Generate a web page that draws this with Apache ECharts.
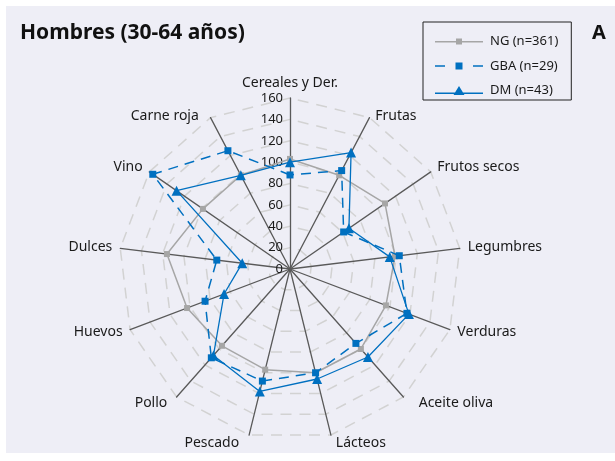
<!DOCTYPE html>
<html>
<head>
<meta charset="utf-8">
<script src="https://cdn.jsdelivr.net/npm/echarts@6/dist/echarts.min.js"></script>
<style>
  html, body { margin: 0; padding: 0; background: #fff; }
  #chart { width: 615px; height: 461px; }
</style>
</head>
<body>
<div id="chart"></div>
<script>
// categorias en sentido horario desde arriba
var categories = ['Cereales y Der.', 'Frutas', 'Frutos secos', 'Legumbres', 'Verduras', 'Aceite oliva',
  'Lácteos', 'Pescado', 'Pollo', 'Huevos', 'Dulces', 'Vino', 'Carne roja'];
var ngValues  = [103, 99, 108, 99, 96, 100, 100, 97, 96, 103, 116, 99, 99];
var gbaValues = [88, 104, 61, 103, 117, 93, 100, 108, 111, 85, 69, 156, 125];
var dmValues  = [100, 123, 67, 94, 119, 110, 106, 118, 108, 66, 45, 129, 99];
var seriesNames = ['NG (n=361)', 'GBA (n=29)', 'DM (n=43)'];
var tickLabels = [0, 20, 40, 60, 80, 100, 120, 140, 160];

// echarts dibuja el radar en sentido antihorario -> invertir el resto
function clockwise(arr) {
  return [arr[0]].concat(arr.slice(1).reverse());
}

var font = 'Noto Sans';
var blue = '#0070c0';
var gray = '#a6a6a6';

// pequeños ajustes de posicion de algunas etiquetas (estilo rich)
var nameStyle = {
  'Frutas': 'fr',
  'Carne roja': 'cr',
  'Aceite oliva': 'ao',
  'Pescado': 'pe',
  'Pollo': 'po',
  'Lácteos': 'la'
};

var chart = echarts.init(document.getElementById('chart'));

var option = {
  backgroundColor: '#fff',
  textStyle: { fontFamily: font },
  graphic: [{
    type: 'rect',
    z: -10,
    silent: true,
    shape: { x: 6, y: 6, width: 609, height: 447 },
    style: { fill: '#eeeef6' }
  }],
  title: [
    {
      text: 'Hombres (30-64 años)',
      left: 15, top: 18,
      textStyle: { fontSize: 21, fontWeight: 'bold', color: '#111', fontFamily: font }
    },
    {
      text: 'A',
      left: 587, top: 18,
      textStyle: { fontSize: 20, fontWeight: 'bold', color: '#111', fontFamily: font }
    }
  ],
  legend: {
    orient: 'vertical',
    left: 423, top: 22,
    padding: [13, 13, 3, 12],
    itemGap: 11.5,
    itemWidth: 48,
    itemHeight: 10,
    borderColor: '#222',
    borderWidth: 1,
    selectedMode: false,
    textStyle: { fontSize: 13, color: '#1a1a1a', padding: [0, 0, 0, 2], fontFamily: font },
    data: [
      { name: seriesNames[0], icon: 'path://M0,2.5H48V4H0Z M21,0H27V6H21Z' },
      { name: seriesNames[1], icon: 'path://M0,2.75H10V4.25H0Z M38,2.75H48V4.25H38Z M20.5,0H27.5V7H20.5Z' },
      { name: seriesNames[2], icon: 'path://M0,6.5H48V8H0Z M18.5,9L24,0L29.5,9Z' }
    ]
  },
  // eje de valores solo para las etiquetas 0..160 sobre el primer eje
  grid: { left: 290, top: 98.3, width: 1, height: 170.7 },
  xAxis: { type: 'value', show: false },
  yAxis: {
    type: 'value',
    min: tickLabels[0],
    max: tickLabels[tickLabels.length - 1],
    interval: tickLabels[1] - tickLabels[0],
    axisLine: { show: false },
    axisTick: { show: false },
    splitLine: { show: false },
    axisLabel: { fontSize: 13, color: '#1a1a1a', margin: 7, fontFamily: font }
  },
  radar: {
    center: [290, 269],
    radius: 171,
    startAngle: 90,
    shape: 'polygon',
    splitNumber: 8,
    nameGap: 8,
    indicator: clockwise(categories).map(function (c) {
      return { name: c, min: 0, max: 160 };
    }),
    axisName: {
      color: '#1a1a1a',
      fontSize: 14,
      fontFamily: font,
      formatter: function (name) {
        var k = nameStyle[name];
        return k ? '{' + k + '|' + name + '}' : name;
      },
      rich: {
        fr: { padding: [12, 0, 0, 2] },
        cr: { padding: [12, 8, 0, 0] },
        ao: { padding: [0, 0, 0, 10] },
        pe: { padding: [0, 8, 0, 0] },
        po: { padding: [0, 4, 0, 0] },
        la: { padding: [0, 0, 0, 3] }
      }
    },
    axisLine: { lineStyle: { color: '#595959', width: 1.3 } },
    axisTick: { show: false },
    axisLabel: { show: false },
    splitLine: { lineStyle: { color: '#d2d2d2', width: 1.5, type: [11, 8] } },
    splitArea: { show: false }
  },
  series: [
    {
      name: seriesNames[0],
      type: 'radar',
      z: 3,
      symbol: 'rect',
      symbolSize: 6,
      lineStyle: { color: gray, width: 1.5 },
      itemStyle: { color: gray },
      data: [{ name: seriesNames[0], value: clockwise(ngValues) }]
    },
    {
      name: seriesNames[1],
      type: 'radar',
      z: 4,
      symbol: 'rect',
      symbolSize: 7,
      lineStyle: { color: blue, width: 1.5, type: [10, 7] },
      itemStyle: { color: blue },
      data: [{ name: seriesNames[1], value: clockwise(gbaValues) }]
    },
    {
      name: seriesNames[2],
      type: 'radar',
      z: 5,
      symbol: 'triangle',
      symbolSize: 10,
      lineStyle: { color: blue, width: 1.3 },
      itemStyle: { color: blue },
      data: [{ name: seriesNames[2], value: clockwise(dmValues) }]
    }
  ]
};

chart.setOption(option);
</script>
</body>
</html>
